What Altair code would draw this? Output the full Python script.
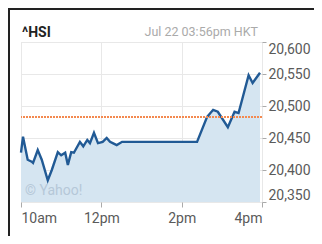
import altair as alt
import pandas as pd

# ---- data ----
times = ["10:00", "10:03", "10:10", "10:16", "10:18", "10:25", "10:31", "10:40", "10:46",
         "10:55", "11:00", "11:06", "11:10", "11:15", "11:19", "11:28", "11:33", "11:39",
         "11:43", "11:49", "11:55", "12:02", "12:08", "12:13", "12:17", "12:23", "12:31",
         "14:23", "14:38", "14:47", "14:54", "15:09", "15:19", "15:25", "15:40", "15:46", "15:57"]
values = [20427, 20452, 20416, 20413, 20411, 20431, 20416, 20384, 20400,
          20428, 20423, 20427, 20408, 20428, 20427, 20444, 20437, 20447,
          20442, 20458, 20442, 20444, 20450, 20444, 20442, 20439, 20444,
          20444, 20483, 20494, 20491, 20467, 20491, 20489, 20548, 20536, 20552]
prev_close = [20483]
x_ticks = [10, 12, 14, 16]
x_tick_labels = ["10am", "12pm", "2pm", "4pm"]
y_ticks = [20350, 20400, 20450, 20500, 20550, 20600]
symbol = "^HSI"
stamp = "Jul 22 03:56pm HKT"
watermark = "\u00a9 Yahoo!"

hours = [int(t.split(":")[0]) + int(t.split(":")[1]) / 60 for t in times]
df = pd.DataFrame({"hour": hours, "value": values})
ref_df = pd.DataFrame({"value": prev_close})

FONT = "Roboto"
label_map = "{" + ",".join(f"'{v}':'{l}'" for v, l in zip(x_ticks, x_tick_labels)) + "}"

xscale = alt.Scale(domain=[10, 16], nice=False)
yscale = alt.Scale(domain=[20350, 20600], nice=False, zero=False)

xaxis = alt.Axis(values=x_ticks, labelExpr=f"{label_map}[datum.value]",
                 title=None, labelFlush=True, tickSize=5, labelPadding=4,
                 domain=False, tickColor="#aaaaaa", labelColor="#5a5a5a",
                 labelFontSize=14, labelFont=FONT, gridColor="#e8e8e8",
                 labelOverlap=False)
yaxis = alt.Axis(orient="right", values=y_ticks, format=",d", title=None,
                 labelFlush=True, tickSize=4, labelPadding=2, domain=False,
                 tickColor="#aaaaaa", labelColor="#5a5a5a",
                 labelFontSize=14, labelFont=FONT, gridColor="#e8e8e8",
                 labelOverlap=False, labelBound=False)

base = alt.Chart(df)

area = base.mark_area(color="#d5e5f1", clip=True).encode(
    x=alt.X("hour:Q", scale=xscale, axis=xaxis),
    y=alt.Y("value:Q", scale=yscale, axis=yaxis),
)

line = base.mark_line(color="#215a95", strokeWidth=2.4).encode(
    x=alt.X("hour:Q", scale=xscale, axis=xaxis),
    y=alt.Y("value:Q", scale=yscale, axis=yaxis))

ref = alt.Chart(ref_df).mark_rule(color="#f3894f", strokeWidth=2, strokeDash=[2, 1]).encode(
    y=alt.Y("value:Q", scale=yscale, axis=yaxis))

title_txt = alt.Chart(pd.DataFrame({"t": [symbol]})).mark_text(
    align="left", baseline="alphabetic", font=FONT, fontSize=14, fontWeight="bold",
    color="#222222").encode(text="t:N", x=alt.value(1), y=alt.value(-5))

stamp_txt = alt.Chart(pd.DataFrame({"t": [stamp]})).mark_text(
    align="right", baseline="alphabetic", font=FONT, fontSize=12.5,
    color="#aaaaaa").encode(text="t:N", x=alt.value(237), y=alt.value(-6))

wm_txt = alt.Chart(pd.DataFrame({"t": [watermark]})).mark_text(
    align="left", baseline="alphabetic", font=FONT, fontSize=14,
    color="#b5c8d8").encode(text="t:N", x=alt.value(4), y=alt.value(153))

top_border = alt.Chart(pd.DataFrame({"a": [0]})).mark_rule(color="#222222", strokeWidth=2).encode(
    x=alt.value(-13), x2=alt.value(300), y=alt.value(-33))
left_border = alt.Chart(pd.DataFrame({"a": [0]})).mark_rule(color="#222222", strokeWidth=2).encode(
    x=alt.value(-12), y=alt.value(-34), y2=alt.value(200))

chart = alt.layer(area, line, ref, wm_txt, title_txt, stamp_txt, top_border, left_border).properties(
    width=241, height=160,
    autosize=alt.AutoSizeParams(type="none"),
    padding={"left": 13, "top": 34, "right": 52, "bottom": 34},
).configure_view(stroke="#e0e0e0").configure_axis(labelOverlap=False).configure(background="white")

chart.save("out.html", embed_options={"renderer": "svg", "actions": False})
